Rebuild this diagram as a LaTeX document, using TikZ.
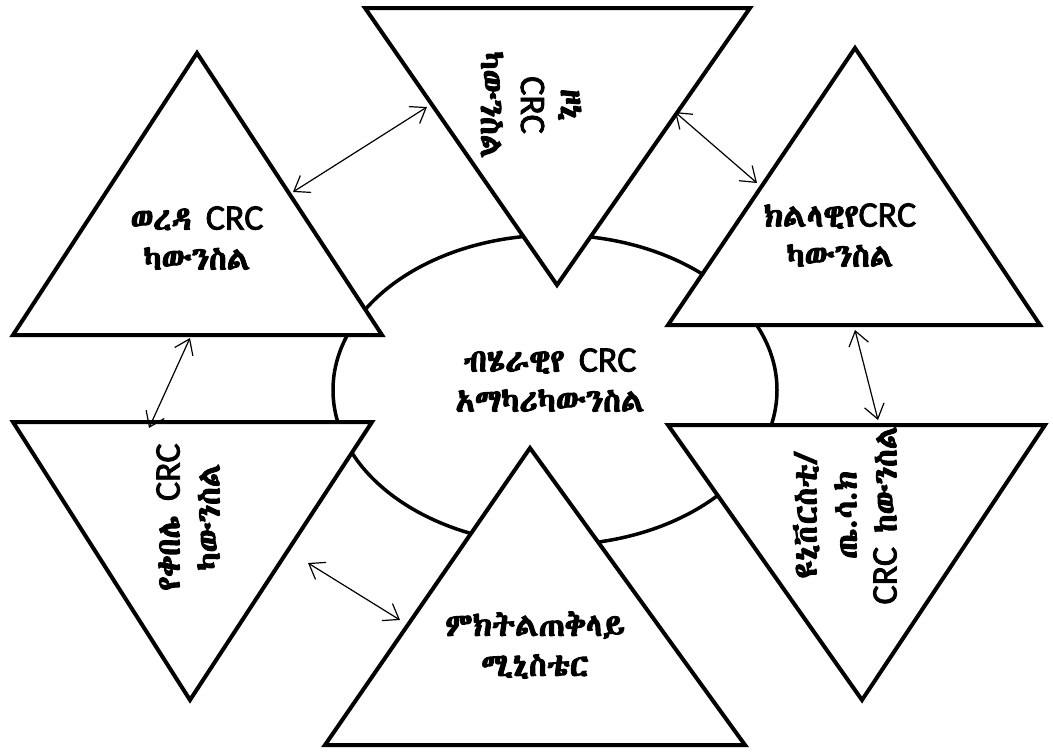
\documentclass[tikz,border=0pt]{standalone}
\usepackage{fontspec}
\usetikzlibrary{arrows.meta}
\newfontfamily\ethfont{Abyssinica SIL}[AutoFakeBold=3.2]
\newfontfamily\latinbold{Carlito}[FakeBold=2.2]
\newcommand\crcword{{\fontsize{36}{40}\selectfont\latinbold\mdseries CRC}}

\begin{document}
\begin{tikzpicture}[x=1pt, y=-1pt]
  % page = reference pixels, y running down
  \useasboundingbox (0,0) rectangle (1053,755);

  \tikzset{
    tri/.style={draw=black, line width=4pt, fill=white, line join=miter},
    hub/.style={draw=black, line width=3.5pt, fill=white},
    link/.style={{Straight Barb[length=14pt,width=20pt]}-{Straight Barb[length=14pt,width=20pt]},
      line width=1.2pt},
    lbl/.style={align=center, font=\fontsize{32}{40}\selectfont\ethfont\bfseries}}

  % ---- 1. the council in the middle ---------------------------------------
  \draw[hub] (555,390) ellipse [x radius=222pt, y radius=155pt];

  % ---- 2. the six triangles ----------------------------------------------
  \draw[tri] (365,8) -- (750,8) -- (557,285) -- cycle;        % zone
  \draw[tri] (197,53) -- (382,335) -- (13,335) -- cycle;      % woreda
  \draw[tri] (855,48) -- (1040,325) -- (668,325) -- cycle;    % region
  \draw[tri] (13,422) -- (372,422) -- (190,700) -- cycle;     % kebele
  \draw[tri] (668,425) -- (1045,425) -- (862,700) -- cycle;   % university
  \draw[tri] (530,448) -- (745,745) -- (325,745) -- cycle;    % deputy PM

  % ---- 3. labels ----------------------------------------------------------
  \node[lbl] (hubtxt) at (550,380) {ብሄራዊየ \crcword\\አማካሪካውንስል};
  \node[lbl, rotate=-90] (zone) at (531,105) {ዞኒ\\\crcword\\ካውንስል};
  \node[lbl] (woreda) at (197,238) {ወረዳ \crcword\\ካውንስል};
  \node[lbl] (region) at (840,235) {ክልላዊየ\crcword\\ካውንስል};
  \node[lbl, rotate=90] (kebele) at (188,517) {የቀበሌ \crcword\\ካውንስል};
  \node[lbl, rotate=90] (univ) at (845,515) {ዩኒቨርስቲ/\\ጤ.ሳ.ክ\\\crcword\ ከውንስል};
  \node[lbl] (deputy) at (535,645) {ምክትልጠቅላይ\\ሚኒስቴር};

  % ---- 4. the two-way links -----------------------------------------------
  \coordinate (wz) at (293,192);  \coordinate (zw) at (427,107);
  \coordinate (zr) at (675,112);  \coordinate (rz) at (757,183);
  \coordinate (wk) at (190,338);  \coordinate (kw) at (149,428);
  \coordinate (ru) at (855,330);  \coordinate (ur) at (878,420);
  \coordinate (kd) at (308,563);  \coordinate (dk) at (400,620);
  \draw[link] (wz) -- (zw);
  \draw[link] (zr) -- (rz);
  \draw[link] (wk) -- (kw);
  \draw[link] (ru) -- (ur);
  \draw[link] (kd) -- (dk);
\end{tikzpicture}
\end{document}
